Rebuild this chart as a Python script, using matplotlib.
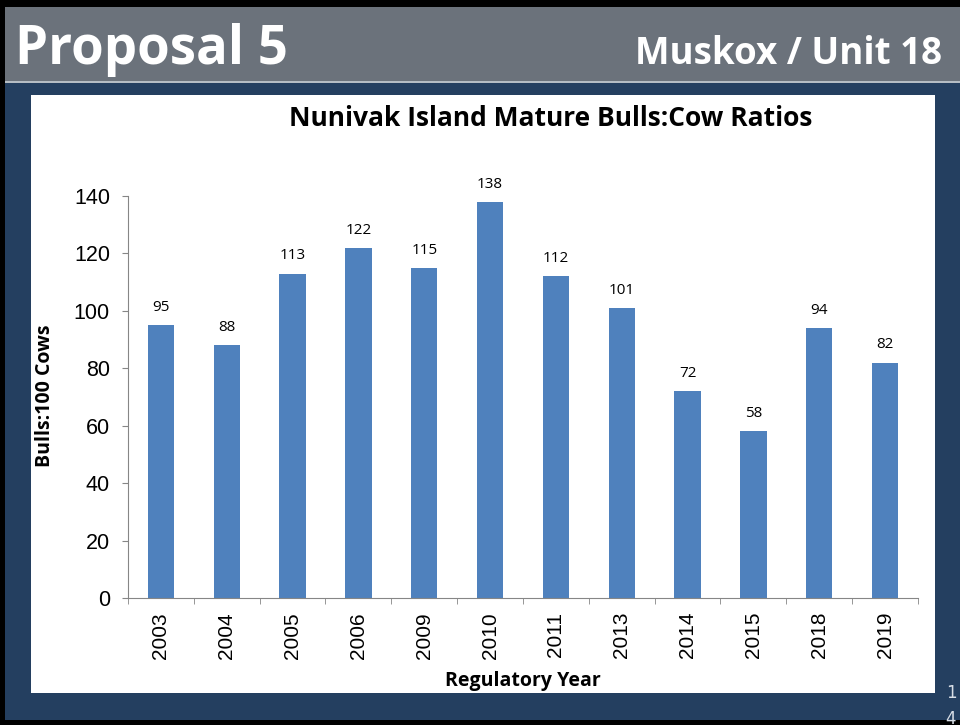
import matplotlib
matplotlib.use("Agg")
import matplotlib.pyplot as plt
from matplotlib.patches import Rectangle

years = ["2003", "2004", "2005", "2006", "2009", "2010", "2011", "2013", "2014", "2015", "2018", "2019"]
ratios = [95, 88, 113, 122, 115, 138, 112, 101, 72, 58, 94, 82]
yticks = [0, 20, 40, 60, 80, 100, 120, 140]

W, H = 960, 725
fig = plt.figure(figsize=(9.6, 7.25), dpi=100)
fig.patch.set_facecolor("#000000")

def fx(x):
    return x / W

def fy(y):
    return 1 - y / H

# navy background
fig.patches.append(Rectangle((fx(5), fy(720)), fx(955), (720 - 7) / H, transform=fig.transFigure,
                             facecolor="#243F60", edgecolor="none", zorder=0))
# header band
fig.patches.append(Rectangle((fx(5), fy(81)), fx(955), (81 - 7) / H, transform=fig.transFigure,
                             facecolor="#6B727B", edgecolor="none", zorder=1))
fig.patches.append(Rectangle((fx(5), fy(83)), fx(955), 2 / H, transform=fig.transFigure,
                             facecolor="#B5BDC4", edgecolor="none", zorder=1))
# white chart area
fig.patches.append(Rectangle((fx(31), fy(693)), fx(935 - 31), (693 - 95) / H, transform=fig.transFigure,
                             facecolor="white", edgecolor="none", zorder=1))

fig.text(fx(15), fy(50), "Proposal 5", color="white", fontsize=38, fontweight="bold",
         family="Open Sans", va="center", ha="left")
fig.text(fx(942), fy(54), "Muskox / Unit 18", color="white", fontsize=26.5, fontweight="bold",
         family="Open Sans", va="center", ha="right")
fig.text(fx(951), fy(693), "1", color="#D8DEE6", fontsize=12, va="center", ha="center")
fig.text(fx(951), fy(719), "4", color="#D8DEE6", fontsize=12, va="center", ha="center")

ax = fig.add_axes([fx(128), fy(598), fx(918 - 128), (598 - 196) / H])
ax.set_zorder(5)
ax.set_facecolor("none")
x = range(len(years))
bars = ax.bar(x, ratios, width=0.4, color="#4F81BD", zorder=2)
for xi, v in zip(x, ratios):
    ax.text(xi, v + 3.5, str(v), ha="center", va="bottom", fontsize=11, family="Open Sans")

ax.set_xlim(-0.5, len(years) - 0.5)
ax.set_ylim(0, 140)
ax.set_yticks(yticks)
ax.set_yticklabels([str(t) for t in yticks], fontsize=15.5, family="Liberation Sans")
ax.set_xticks(list(x))
ax.set_xticklabels(years, rotation=90, fontsize=15, family="Liberation Sans")
ax.tick_params(axis="x", length=0, pad=10)
ax.set_xticks([i - 0.5 for i in range(len(years) + 1)], minor=True)
ax.tick_params(axis="x", which="minor", length=4.5, color="#868686")
ax.tick_params(axis="y", length=4.5, color="#868686", pad=8.5)
for s in ["top", "right"]:
    ax.spines[s].set_visible(False)
ax.spines["left"].set_color("#868686")
ax.spines["bottom"].set_color("#868686")

fig.text(fx(45), fy(396), "Bulls:100 Cows", fontsize=14, fontweight="bold", family="Open Sans",
         rotation=90, ha="center", va="center", zorder=6)
fig.text(fx(523), fy(681), "Regulatory Year", fontsize=14, fontweight="bold", family="Open Sans",
         ha="center", va="center", zorder=6)
fig.text(fx(551), fy(118), "Nunivak Island Mature Bulls:Cow Ratios", fontsize=19, fontweight="bold",
         family="Open Sans", ha="center", va="center", zorder=6)

fig.savefig("out.png", dpi=100, facecolor=fig.get_facecolor())
